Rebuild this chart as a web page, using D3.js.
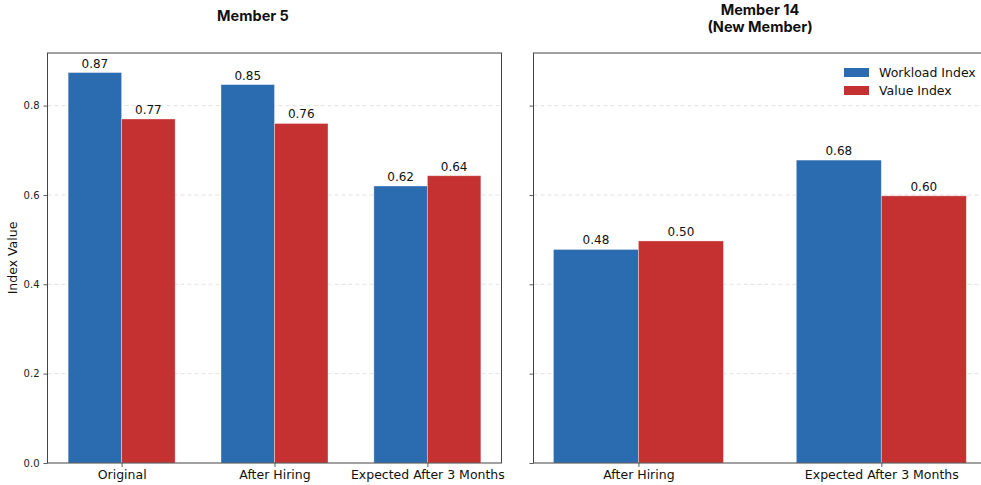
<!DOCTYPE html>
<html><head><meta charset="utf-8">
<script src="https://cdn.jsdelivr.net/npm/d3@7"></script>
<style>body{margin:0;background:#fff}svg{display:block}</style>
</head><body>
<svg id="c" width="981" height="485"></svg>
<script>
const leftCategories = ["Original", "After Hiring", "Expected After 3 Months"];
const leftWorkload = [0.874, 0.847, 0.620];
const leftValue = [0.770, 0.760, 0.643];
const rightCategories = ["After Hiring", "Expected After 3 Months"];
const rightWorkload = [0.478, 0.678];
const rightValue = [0.497, 0.598];
const yTicks = [0, 0.2, 0.4, 0.6, 0.8];
const seriesNames = ["Workload Index", "Value Index"];
const colors = ["#2b6cb0", "#c53030"];
const titles = [["Member 5"], ["Member 14", "(New Member)"]];

const svg = d3.select("#c");
const plotTop = 53, plotBottom = 463;
const yMax = d3.max([...leftWorkload, ...leftValue, ...rightWorkload, ...rightValue]) * 1.05;
const y = d3.scaleLinear().domain([0, yMax]).range([plotBottom, plotTop]);
const barW = 0.35;

function panel(cfg) {
  const g = svg.append("g");
  const x = d3.scaleLinear().domain(cfg.xdom).range([cfg.x0, cfg.x1]);
  g.selectAll(".grid").data(yTicks.filter(d => d > 0)).join("line")
    .attr("x1", cfg.x0).attr("x2", cfg.x1)
    .attr("y1", d => y(d)).attr("y2", d => y(d))
    .attr("stroke", "#dcdcdc").attr("stroke-width", 0.8).attr("stroke-dasharray", "4,3");
  const series = [cfg.w, cfg.v];
  series.forEach((vals, si) => {
    g.selectAll(".b" + si).data(vals).join("rect")
      .attr("x", (d, i) => x(i + (si === 0 ? -barW : 0)))
      .attr("width", x(barW) - x(0))
      .attr("y", d => y(d)).attr("height", d => y(0) - y(d))
      .attr("fill", colors[si]).attr("stroke", "rgba(255,255,255,0.45)").attr("stroke-width", 0.8);
    g.selectAll(".l" + si).data(vals).join("text")
      .attr("x", (d, i) => x(i + (si === 0 ? -barW / 2 : barW / 2)))
      .attr("y", d => y(d) - 5)
      .attr("text-anchor", "middle").attr("font-family", "DejaVu Sans").attr("font-size", 12).attr("fill", "#111")
      .text(d => d3.format(".2f")(d));
  });
  const ya = d3.axisLeft(y).tickValues(yTicks).tickSize(4).tickPadding(4).tickFormat(cfg.ylabels ? d3.format(".1f") : () => "");
  const yg = g.append("g").attr("transform", `translate(${cfg.x0},0)`).call(ya);
  yg.select(".domain").remove();
  yg.selectAll("line").attr("stroke", "#333").attr("stroke-width", 0.8);
  yg.selectAll("text").attr("font-family", "DejaVu Sans").attr("font-size", 10).attr("fill", "#222");
  const xa = d3.axisBottom(x).tickValues(cfg.cats.map((c, i) => i)).tickSize(4).tickPadding(3).tickFormat(i => cfg.cats[i]);
  const xg = g.append("g").attr("transform", `translate(0,${plotBottom})`).call(xa);
  xg.select(".domain").remove();
  xg.selectAll("line").attr("stroke", "#333").attr("stroke-width", 0.8);
  xg.selectAll("text").attr("font-family", "DejaVu Sans").attr("font-size", 12.5).attr("fill", "#111");
  g.append("rect").attr("x", cfg.x0).attr("y", plotTop).attr("width", cfg.x1 - cfg.x0).attr("height", plotBottom - plotTop)
    .attr("fill", "none").attr("stroke", "#444").attr("stroke-width", 1);
  cfg.title.forEach((t, i) => {
    g.append("text").attr("x", cfg.tx).attr("y", cfg.ty + i * 17).attr("text-anchor", "middle")
      .attr("font-family", "Inter").attr("font-weight", 700).attr("font-size", 14.5).attr("fill", "#111").text(t);
  });
}

panel({x0: 47.5, x1: 501.5, xdom: [-0.485, 2.485], cats: leftCategories, w: leftWorkload, v: leftValue, ylabels: true, title: titles[0], tx: 253, ty: 21});
panel({x0: 533.5, x1: 1012, xdom: [-0.432, 1.538], cats: rightCategories, w: rightWorkload, v: rightValue, ylabels: false, title: titles[1], tx: 760, ty: 15});

svg.append("text").attr("transform", "translate(17,258) rotate(-90)").attr("text-anchor", "middle")
  .attr("font-family", "DejaVu Sans").attr("font-size", 12.5).attr("fill", "#111").text("Index Value");

const lg = svg.append("g");
seriesNames.forEach((n, i) => {
  lg.append("rect").attr("x", 844).attr("y", 68 + i * 18).attr("width", 25).attr("height", 9).attr("fill", colors[i]);
  lg.append("text").attr("x", 879).attr("y", 77 + i * 18).attr("font-family", "DejaVu Sans").attr("font-size", 12.5).attr("fill", "#111").text(n);
});
</script>
</body></html>
